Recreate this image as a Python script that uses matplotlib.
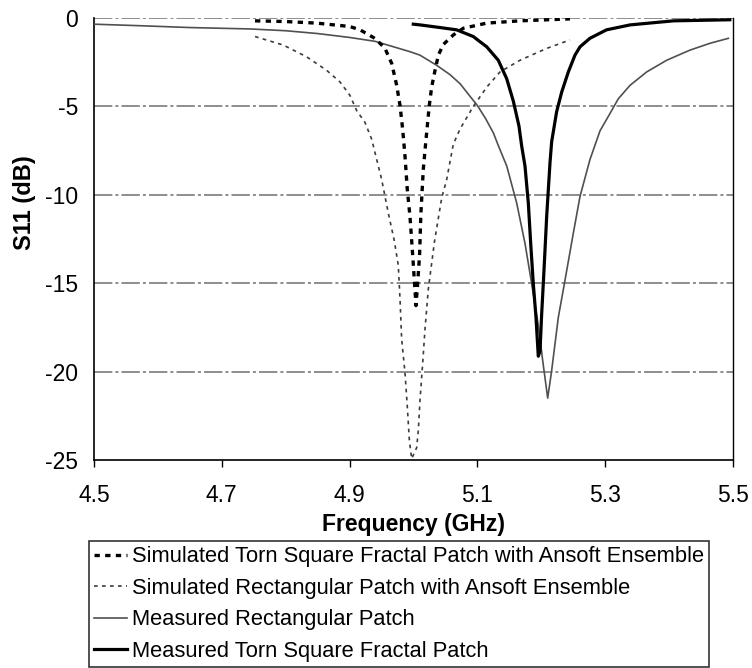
import matplotlib
matplotlib.use("Agg")
import matplotlib.pyplot as plt

plt.rcParams['font.family'] = ['Liberation Sans', 'DejaVu Sans']
plt.rcParams['axes.unicode_minus'] = False

# ---- data ----
sim_torn_f = [4.752, 4.80, 4.8485, 4.9002, 4.9163, 4.9371, 4.9424, 4.9554, 4.9659, 4.9737,
              4.9789, 4.983, 4.9867, 4.9903, 4.9945, 4.9987, 5.0039, 5.0065, 5.0095, 5.0115,
              5.0153, 5.0196, 5.0247, 5.0284, 5.0337, 5.0389, 5.0466, 5.0623, 5.0779, 5.1146,
              5.1667, 5.2449]
sim_torn_s = [-0.16, -0.2, -0.29, -0.48, -0.67, -1.1, -1.24, -1.72, -2.57, -3.81,
              -4.95, -6.28, -7.81, -9.71, -11.23, -13.4, -16.27, -15.0, -13.4, -11.1,
              -8.57, -6.86, -4.95, -3.91, -2.96, -2.1, -1.5, -0.96, -0.58, -0.29,
              -0.16, -0.05]

sim_rect_f = [4.752, 4.7962, 4.8329, 4.8641, 4.885, 4.9006, 4.9111, 4.9241, 4.9346, 4.9424,
              4.9502, 4.9554, 4.9606, 4.970, 4.9762, 4.9789, 4.9815, 4.9867, 4.9903, 4.9935,
              4.9971, 5.005, 5.0076, 5.0102, 5.0144, 5.018, 5.0232, 5.033, 5.0441, 5.0519,
              5.0623, 5.0728, 5.0936, 5.1146, 5.1354, 5.1667, 5.2084, 5.2449]
sim_rect_s = [-1.05, -1.53, -2.2, -2.96, -3.62, -4.38, -5.24, -5.91, -6.86, -8.0,
              -9.14, -10.09, -11.04, -12.6, -14.0, -15.9, -18.18, -20.08, -21.98, -23.88,
              -24.93, -24.3, -23.3, -21.6, -19.51, -17.6, -15.33, -12.6, -10.19, -9.14,
              -7.14, -6.28, -5.0, -3.91, -3.05, -2.39, -1.72, -1.24]

meas_rect_f = [4.5, 4.575, 4.65, 4.745, 4.80, 4.85, 4.90, 4.94, 4.994, 5.010, 5.036, 5.057,
               5.073, 5.090, 5.100, 5.113, 5.125, 5.133, 5.146, 5.1615, 5.1745, 5.185, 5.195,
               5.203, 5.210, 5.216, 5.2266, 5.237, 5.250, 5.2606, 5.2762, 5.2919, 5.3075,
               5.3205, 5.3388, 5.3649, 5.3962, 5.4324, 5.464, 5.4927]
meas_rect_s = [-0.35, -0.44, -0.54, -0.62, -0.72, -0.88, -1.1, -1.32, -1.9, -2.1, -2.67, -3.2,
               -3.72, -4.5, -4.95, -5.7, -6.5, -7.24, -8.38, -10.47, -12.75, -15.04, -17.32,
               -19.6, -21.5, -20.0, -16.94, -14.85, -12.19, -10.09, -8.0, -6.38, -5.4,
               -4.57, -3.81, -3.05, -2.39, -1.82, -1.43, -1.15]

meas_torn_f = [4.9997, 5.0102, 5.0415, 5.0676, 5.0936, 5.104, 5.1146, 5.1327, 5.1458, 5.1562,
               5.165, 5.1693, 5.1745, 5.1797, 5.1834, 5.1875, 5.1917, 5.1953, 5.198, 5.2003,
               5.2042, 5.2084, 5.2136, 5.2162, 5.224, 5.2319, 5.2423, 5.2527, 5.2606, 5.276,
               5.302, 5.339, 5.407, 5.495]
meas_torn_s = [-0.35, -0.39, -0.54, -0.67, -1.05, -1.34, -1.63, -2.39, -3.43, -4.7,
               -6.1, -7.24, -8.38, -10.47, -12.75, -15.04, -16.94, -19.13, -18.84, -16.94,
               -14.28, -11.23, -8.19, -7.0, -5.3, -4.19, -3.05, -2.1, -1.63, -1.15,
               -0.67, -0.39, -0.16, -0.1]

labels = ["Simulated Torn Square Fractal Patch with Ansoft Ensemble",
          "Simulated Rectangular Patch with Ansoft Ensemble",
          "Measured Rectangular Patch",
          "Measured Torn Square Fractal Patch"]
x_ticks = [4.5, 4.7, 4.9, 5.1, 5.3, 5.5]
y_ticks = [0, -5, -10, -15, -20, -25]
grid_levels = [0, -5, -10, -15, -20]

# ---- figure ----
W, H = 752, 668
L, R, T, B = 94, 733, 18, 460
fig = plt.figure(figsize=(W / 100, H / 100), dpi=100)
ax = fig.add_axes([L / W, 1 - B / H, (R - L) / W, (B - T) / H])

for yv in grid_levels:
    ax.axhline(yv, color='#6f6f6f', lw=1.1, ls=(0, (12, 2, 2, 2)), zorder=1)

l1, = ax.plot(sim_torn_f, sim_torn_s, color='black', lw=2.4, ls=(0, (1.6, 1.6)), zorder=4)
l2, = ax.plot(sim_rect_f, sim_rect_s, color='#3c3c3c', lw=1.2, ls=(0, (2.2, 2.6)), zorder=3)
l3, = ax.plot(meas_rect_f, meas_rect_s, color='#505050', lw=1.2, zorder=3)
l4, = ax.plot(meas_torn_f, meas_torn_s, color='black', lw=2.3, zorder=4)

ax.set_xlim(4.5, 5.5)
ax.set_ylim(-25, 0)
ax.set_xticks(x_ticks)
ax.set_xticklabels([f"{v:.1f}" for v in x_ticks])
ax.set_yticks(y_ticks)
ax.set_yticklabels([str(v) for v in y_ticks])
ax.tick_params(axis='x', direction='out', length=5, width=1, labelsize=16.5, pad=12)
ax.tick_params(axis='y', length=0, labelsize=16.5, pad=11.5)

ax.spines['top'].set_visible(False)
for s in ['left', 'right', 'bottom']:
    ax.spines[s].set_color('black')
    ax.spines[s].set_linewidth(1.2)
ax.spines['right'].set_linewidth(1.0)

ax.set_xlabel("Frequency (GHz)", fontsize=16.5, fontweight='bold', labelpad=4.5)
ax.set_ylabel("S11 (dB)", fontsize=17, fontweight='bold', va='center')
ax.yaxis.set_label_coords((25 - L) / (R - L), (B - 203) / (B - T))

leg = fig.legend([l1, l2, l3, l4], labels, loc='upper left',
                 bbox_to_anchor=(89 / W, 1 - 541 / H), borderaxespad=0,
                 fontsize=15.75, frameon=True, fancybox=False, edgecolor='black',
                 handlelength=1.5, handletextpad=0.2, labelspacing=0.48,
                 borderpad=0.25)
leg.get_frame().set_linewidth(1.2)

fig.savefig("out.png", dpi=100, facecolor='white')
